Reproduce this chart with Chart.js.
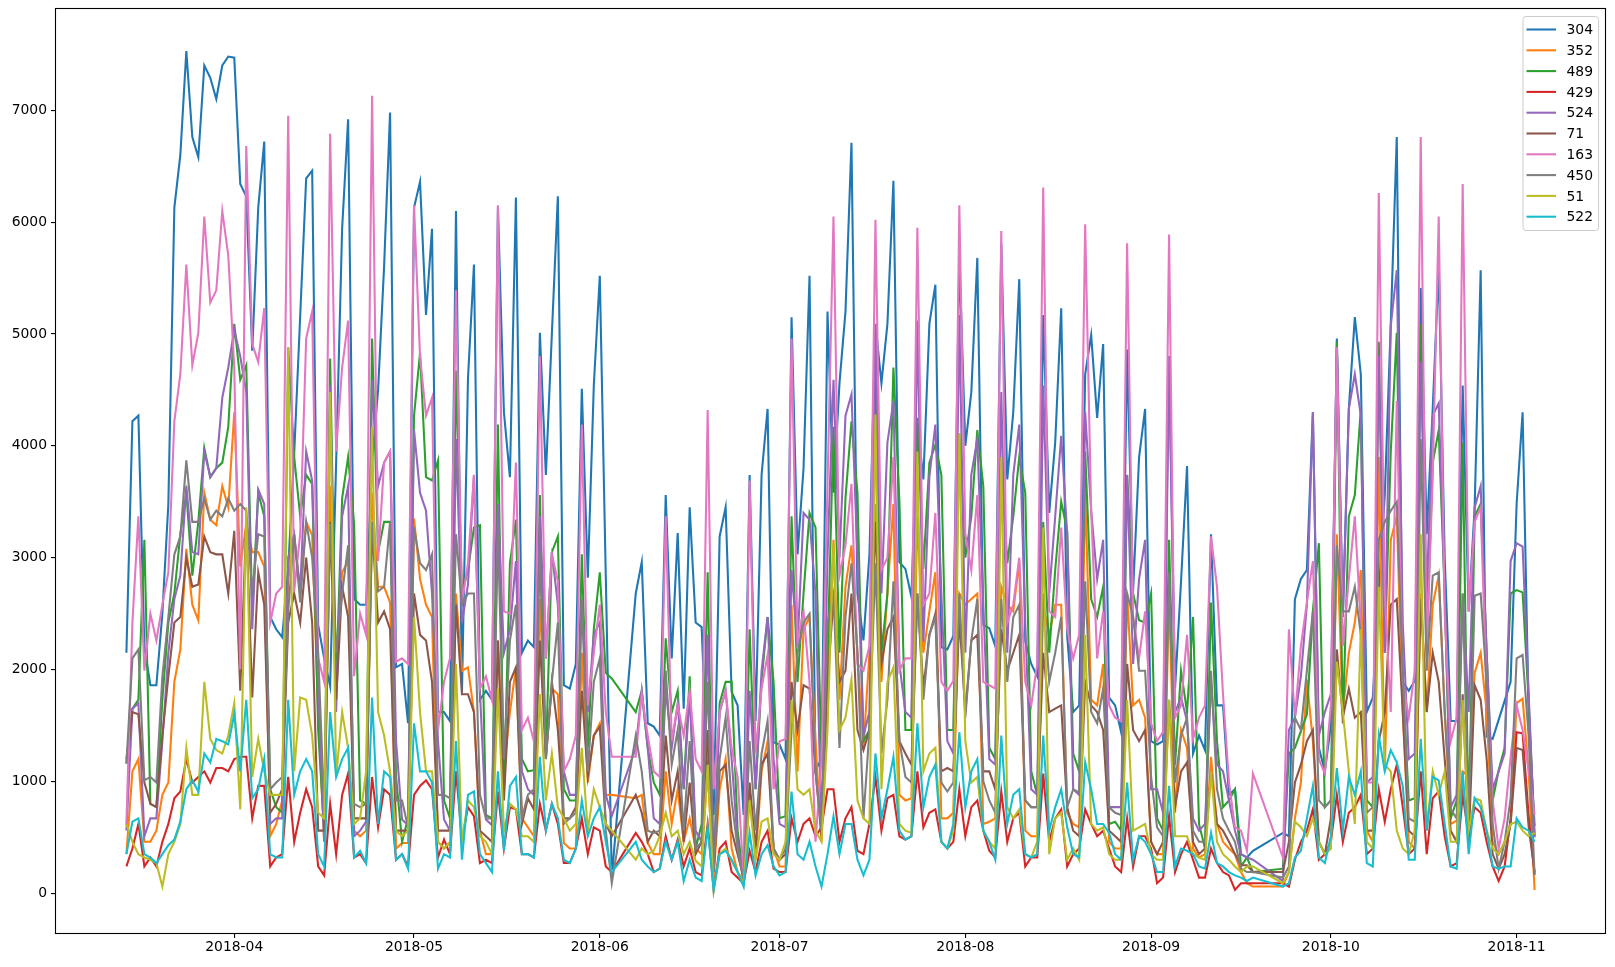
<!DOCTYPE html>
<html>
<head>
<meta charset="utf-8">
<script src="https://cdn.jsdelivr.net/npm/chart.js@4/dist/chart.umd.min.js"></script>
<style>
  html, body { margin: 0; padding: 0; background: #fff; }
  canvas { display: block; }
</style>
</head>
<body>
<canvas id="chart" width="1615" height="967"></canvas>
<script>
// daily values from 2018-03-14 (one entry per day, null = no data that day)
const firstDay = Date.UTC(2018, 2, 14) / 86400000;
const seriesNames = ['304', '352', '489', '429', '524', '71', '163', '450', '51', '522'];
const seriesColors = ['#1f77b4', '#ff7f0e', '#2ca02c', '#d62728', '#9467bd',
                      '#8c564b', '#e377c2', '#7f7f7f', '#bcbd22', '#17becf'];
const monthTicks = ['2018-04-01', '2018-05-01', '2018-06-01', '2018-07-01',
                    '2018-08-01', '2018-09-01', '2018-10-01', '2018-11-01'];
const yTicks = [0, 1000, 2000, 3000, 4000, 5000, 6000, 7000];

const s304 = [
  2150, 4220, 4270, 2200, 1860, 1860, 2500, 3480, 6130, 6600,
  7530, 6760, 6580, 7400, 7290, 7100, 7400, 7480, 7470, 6340,
  6230, 4850, 6130, 6720, 2470, 2360, 2290, 2900, 3930, 5160,
  6390, 6460, 2400, 2100, 1850, 3850, 5940, 6920, 2630, 2580,
  2580, 3850, 4500, 5600, 6980, 2020, 2050, 1520, 6130, 6360,
  5170, 5940, 1620, 1620, 1540, 6100, 1800, 4600, 5620, 1730,
  1810, 1730, 6130, 4300, 3720, 6220, 2150, 2260, 2200, 5010,
  3740, 5000, 6230, 1860, 1830, 2050, 4510, 2820, 4540, 5520,
  2830, 140, null, null, null, 2680, 2960, 1520, 1490, 1410,
  3560, 2100, 3220, 1650, 3450, 2420, 2380, 1000, 700, 3190,
  3450, 1800, 1680, 700, 3740, 1540, 3740, 4330, 1350, 1330,
  1200, 5150, 3030, 3800, 5520, 1100, 1200, 5200, 3580, 4560,
  5200, 6710, 2680, 2260, 3030, 5090, 4560, 5090, 6370, 2960,
  2900, 2650, 4200, 3700, 5090, 5440, 2200, 2180, 2300, 5700,
  4000, 4480, 5680, 2400, 2370, 2210, 5800, 3700, 4300, 5490,
  2250, 2050, 1940, 5170, 3400, 4030, 5230, 2300, 1620, 1680,
  4640, 4990, 4250, 4910, 1750, 1680, 1440, 4860, 2700, 3900,
  4330, 1360, 1330, 1360, 4800, 1830, 2790, 3820, 1250, 1410,
  1280, 3210, 1680, 1680, 880, 930, 350, 320, 380, null,
  null, null, null, 540, 510, 2630, 2810, 2890, 4300, 1300,
  1090, 1500, 4960, 2470, 4330, 5150, 4640, 1620, 1750, 2700,
  3560, 5090, 6760, 1890, 1810, 1900, 5410, 3210, 4330, 5600,
  3000, 1540, 1540, 4540, 2520, 3450, 5570, 1400, 1380, 1550,
  1720, 1890, 3480, 4300, 1620, 600
];
const s352 = [
  350, 1090, 1200, 460, 460, 560, 880, 990, 1890, 2180,
  3080, 2580, 2440, 3580, 3340, 3290, 3640, 3450, 4300, 2920,
  3300, 3050, 3050, 2920, 510, 620, 830, 2800, 3180, 2700,
  3320, 3200, 1620, 460, 3640, 2000, 2870, 2970, 560, 510,
  560, 3580, 2740, 2740, 2600, 400, 450, 450, 3350, 2810,
  2580, 2470, 460, 400, 450, 2680, 1990, 2020, 1620, 560,
  350, 350, 2260, 1090, 1620, 2020, 670, 590, 510, 2630,
  1250, 1830, 1780, 450, 400, 400, 2150, 990, 1410, 1520,
  880, 880, null, null, null, 850, 880, 450, 350, 350,
  1090, 620, 930, 460, 670, 400, 350, 1090, 140, 930,
  1200, 400, 190, 110, 930, 300, 1090, 1360, 400, 240,
  240, 2580, 1090, 2360, 2470, 1360, 460, 2000, 3160, 1730,
  2740, 3110, 2150, 1300, 2150, 3480, 1890, 2680, 3480, 880,
  830, 850, 3370, 2150, 2520, 2870, 670, 670, 720, 2680,
  2580, 2630, 2680, 620, 640, 670, 2740, 2580, 2520, 2970,
  560, 510, 510, 2580, 2310, 2580, 2580, 720, 620, 590,
  3610, 1730, 1680, 2050, 460, 400, 400, 2680, 1680, 1730,
  1570, 460, 350, 350, 2680, 720, 1460, 1300, 400, 320,
  350, 1220, 620, 460, 400, 350, 190, 90, 60, null,
  null, null, null, 60, 190, 670, 990, 1910, 1360, 460,
  350, 400, 3210, 1620, 2150, 2420, 2890, 560, 460, 3900,
  1090, 3160, 3370, 1620, 460, 400, 2680, 1620, 2580, 2840,
  1620, 620, 650, 1090, 1040, 1970, 2150, 1620, 460, 350,
  460, 620, 1700, 1740, 1090, 30
];
const s489 = [
  1200, 1650, 1730, 3160, 800, 770, 1730, 2420, 2680, 3210,
  3580, 2840, 3320, 3980, 3720, 3800, 3850, 4170, 5090, 4590,
  4720, 2520, 3580, 3370, 930, 770, 720, 4880, 3900, 3370,
  3740, 3660, 1460, 560, 4780, 1890, 3530, 3900, 3300, 830,
  800, 4960, 3050, 3320, 3320, 1040, 460, 670, 4270, 4830,
  3720, 3690, 3870, 830, 670, 4670, 2680, 2890, 3270, 3290,
  700, 670, 4190, 900, 2950, 3340, 1200, 1090, 1100, 3560,
  1200, 3050, 3190, 930, 830, 830, 3030, 1300, 2360, 2870,
  1970, 1920, null, null, null, 1620, 1810, 1300, 990, 880,
  2280, 1620, 1810, 930, 1940, 400, 620, 2870, 190, 1700,
  1890, 1890, 560, 140, 2360, 930, 1900, 2470, 1890, 670,
  690, 3370, 1890, 2680, 3400, 3270, 1200, 2100, 4170, 2150,
  3530, 4220, 3580, 1360, 1460, 4690, 2150, 2680, 4700, 3500,
  1460, 1460, 4250, 2900, 3850, 4010, 3740, 1460, 1460, 4110,
  3000, 3370, 4140, 3640, 1300, 1200, 3900, 2950, 3370, 3900,
  3580, 1090, 880, 3320, 2150, 2890, 3500, 3240, 1250, 1090,
  3950, 2630, 2470, 2740, 620, 640, 560, 3740, 2680, 2440,
  2420, 2680, 670, 560, 3160, 1150, 1990, 1620, 2470, 620,
  400, 2600, 1360, 770, 830, 930, 240, 320, 190, null,
  null, null, null, 220, 1250, 1300, 1450, 1600, 2520, 3130,
  770, 830, 4930, 1520, 3370, 3560, 4330, 830, 770, 4930,
  2150, 3950, 5010, 1890, 830, 850, 5090, 2210, 3850, 4140,
  2680, 670, 830, 4030, 560, 3370, 3480, 2150, 830, 1100,
  1300, 2680, 2710, 2690, 1730, 510
];
const s429 = [
  240, 400, 620, 240, 320, 240, 460, 620, 850, 910,
  1200, 990, 1040, 1090, 990, 1120, 1120, 1090, 1200, 1220,
  1220, 670, 960, 960, 240, 320, 350, 1040, 460, 720,
  930, 770, 240, 160, 800, 350, 880, 1070, 320, 350,
  270, 1040, 590, 930, 880, 300, 350, 240, 880, 960,
  1010, 930, 320, 480, 350, 1090, 480, 770, 690, 270,
  300, 270, 910, 400, 770, 750, 350, 350, 320, 800,
  560, 800, 620, 270, 270, 400, 670, 350, 590, 560,
  240, 190, null, null, null, 540, 460, 350, 190, 220,
  510, 300, 480, 240, 400, 190, 160, 620, 30, 400,
  460, 190, 140, 90, 380, 190, 460, 560, 220, 190,
  190, 670, 460, 620, 670, 510, 590, 930, 930, 460,
  670, 770, 380, 350, 620, 1040, 560, 850, 880, 510,
  480, 510, 1090, 590, 720, 750, 460, 400, 460, 930,
  510, 770, 830, 560, 380, 320, 910, 460, 670, 720,
  240, 320, 320, 1070, 460, 670, 750, 240, 350, 400,
  750, 620, 510, 560, 400, 240, 190, 670, 240, 510,
  510, 400, 90, 140, 690, 190, 350, 460, 300, 140,
  140, 400, 270, 190, 160, 30, 90, 90, 90, null,
  null, null, null, 90, 60, 300, 460, 560, 750, 300,
  350, 460, 880, 460, 720, 770, 880, 350, 400, 930,
  640, 930, 1150, 770, 350, 400, 1090, 350, 850, 910,
  510, 240, 270, 880, 510, 770, 720, 460, 240, 110,
  240, 670, 1440, 1430, 700, 170
];
const s524 = [
  560, 1650, 1700, 510, 670, 670, 1360, 2150, 2630, 2840,
  3640, 3050, 3030, 3950, 3720, 3800, 4430, 4700, 5040, 4800,
  4480, 2360, 3610, 3480, 620, 670, 670, 3000, 3210, 2700,
  3950, 3690, 1900, 460, 4540, 1620, 3370, 3640, 510, 560,
  640, 4590, 3640, 3850, 3950, 1360, 660, 610, 4140, 3580,
  3420, 2680, 1360, 660, 560, 4060, 2420, 2760, 3740, 1800,
  660, 610, 3480, 2150, 2360, 2970, 1090, 930, 880, 3370,
  2100, 3050, 2580, 1090, 880, 880, 2630, 1620, 2310, 2420,
  880, 690, null, null, null, 1300, 1810, 1300, 670, 620,
  1830, 1300, 1700, 930, 1780, 560, 460, 2310, 190, 1620,
  1810, 1200, 460, 90, 1810, 930, 1990, 2470, 1200, 620,
  590, 2890, 2210, 3400, 3340, 2680, 560, 3000, 4590, 3000,
  4270, 4460, 3000, 1410, 1620, 5090, 2680, 4030, 4400, 2050,
  1620, 1570, 5120, 2250, 3720, 4190, 2680, 1360, 1250, 5170,
  2150, 3740, 4060, 2580, 1200, 1150, 4480, 2150, 3740, 4190,
  2420, 930, 880, 4540, 2680, 3370, 4090, 3210, 930, 880,
  4300, 3420, 2810, 3160, 770, 770, 770, 3740, 2050, 2810,
  3160, 930, 930, 720, 4800, 1620, 1750, 1540, 670, 560,
  620, 1890, 1150, 1090, 830, 560, 350, 320, 300, null,
  null, null, null, 110, 1460, 1570, 1940, 2580, 4300, 1410,
  1620, 1780, 4880, 2470, 4330, 4640, 4270, 990, 1040, 4800,
  2150, 5070, 5570, 2420, 1200, 1250, 4750, 2680, 4270, 4380,
  2680, 770, 880, 2680, 1620, 3450, 3640, 2150, 930, 1090,
  1250, 2970, 3130, 3100, 1800, 500
];
const s71 = [
  1160, 1620, 1600, 990, 800, 770, 1410, 1940, 2420, 2470,
  3000, 2740, 2760, 3190, 3050, 3030, 3030, 2680, 3240, 1810,
  3320, 1750, 2870, 2580, 720, 800, 930, 2420, 2680, 2420,
  3000, 2420, 560, 560, 3320, 1730, 2740, 2470, 670, 670,
  670, 3270, 2420, 2520, 2360, 560, 560, 560, 2680, 2310,
  2260, 1890, 560, 560, 560, 2580, 1780, 1780, 1620, 560,
  510, 460, 2260, 830, 1890, 2020, 620, 850, 750, 2260,
  1200, 1890, 1460, 670, 670, 770, 1810, 1040, 1410, 1490,
  620, 510, null, null, null, 880, 720, 460, 560, 510,
  1410, 830, 1090, 460, 990, 350, 460, 1460, 190, 1090,
  1150, 560, 350, 140, 990, 400, 1150, 1250, 400, 300,
  350, 1890, 1460, 1860, 1830, 1090, 510, 1890, 2630, 1890,
  1990, 2680, 1460, 1280, 1460, 3320, 2050, 2360, 2470, 1360,
  1250, 1150, 2680, 1830, 2310, 2500, 1090, 1120, 1090, 2470,
  1620, 2260, 2310, 1090, 1090, 930, 2360, 1990, 2150, 2310,
  830, 770, 770, 2150, 1620, 1650, 1680, 770, 560, 510,
  1890, 1680, 1620, 1460, 560, 510, 460, 2050, 1460, 1360,
  1460, 460, 350, 460, 1730, 770, 1090, 1170, 460, 350,
  400, 1090, 620, 560, 460, 350, 250, 250, 190, null,
  null, null, null, 190, 460, 990, 1150, 1360, 1460, 460,
  350, 670, 2180, 1570, 1830, 1570, 1620, 560, 560, 1360,
  1620, 2580, 2630, 1620, 560, 510, 2630, 1620, 2150, 1890,
  1200, 560, 460, 1780, 460, 1860, 1730, 1200, 350, 220,
  350, 620, 1300, 1280, 600, 190
];
const s163 = [
  620, 2420, 3370, 1990, 2500, 2260, 2580, 2870, 4220, 4640,
  5620, 4720, 5010, 6050, 5280, 5390, 6100, 5700, 4700, 2000,
  6680, 4910, 4750, 5230, 2420, 2680, 2740, 6950, 2700, 3210,
  4960, 5200, 2100, 1890, 6790, 3950, 4700, 5120, 1940, 2500,
  2310, 7130, 2970, 3850, 3950, 2070, 2100, 2050, 6150, 4800,
  4270, 4430, 1460, 1890, 2100, 5390, 2600, 2950, 3740, 1830,
  1940, 1730, 6150, 2520, 2500, 3850, 1460, 1570, 1360, 4800,
  2100, 3030, 2790, 1090, 1200, 1410, 4190, 1680, 2150, 2580,
  1620, 1220, null, null, null, 1220, 1780, 1410, 1090, 1040,
  3370, 1360, 1680, 1410, 1810, 1200, 1090, 4320, 930, 1620,
  1810, 1300, 1040, 140, 3690, 1250, 1830, 2130, 930, 1360,
  1380, 4960, 2260, 2520, 1890, 460, 1200, 3640, 6050, 2840,
  3110, 3660, 2050, 1990, 2210, 6020, 2890, 3000, 3900, 1990,
  2100, 2100, 5950, 2580, 2680, 3400, 1890, 1810, 1900, 6150,
  3210, 2890, 3560, 1890, 1860, 1830, 5920, 2420, 2580, 3000,
  1890, 1680, 2050, 6310, 2520, 2470, 3270, 2360, 2100, 2310,
  5980, 3420, 2100, 2520, 1680, 1570, 1540, 5810, 2470, 2100,
  2520, 1520, 1360, 1440, 5890, 1570, 1680, 2310, 1380, 1570,
  1680, 3190, 2740, 1780, 990, 590, 560, 380, 1070, null,
  null, null, null, 320, 2360, 1570, 2210, 2600, 2970, 1200,
  1070, 1680, 4880, 2210, 2810, 3370, 2400, 990, 990, 6260,
  2680, 1620, 4400, 1890, 1570, 1990, 6760, 2150, 3740, 6050,
  2500, 1360, 1570, 6340, 2520, 3320, 3450, 1800, 830, 400,
  670, 1220, 1680, 1460, 1100, 700
];
const s450 = [
  1160, 2100, 2180, 1010, 1040, 990, 1940, 2470, 3030, 3190,
  3870, 3320, 3320, 3530, 3340, 3420, 3370, 3530, 3420, 3480,
  3420, 2700, 3210, 3190, 930, 990, 1040, 2520, 3210, 2600,
  3320, 3000, 2150, 770, 3300, 2150, 2680, 3110, 800, 770,
  800, 3320, 2700, 2740, 3320, 830, 830, 590, 3270, 2950,
  2890, 3030, 880, 880, 850, 3210, 2580, 2680, 2680, 880,
  670, 670, 3210, 1200, 2260, 2580, 670, 880, 930, 3050,
  1200, 1890, 2420, 620, 670, 720, 2630, 1090, 1890, 2100,
  560, 90, null, null, null, 1410, 1090, 560, 540, 560,
  1990, 1150, 1460, 560, 1360, 400, 460, 1890, 190, 1200,
  1570, 830, 400, 110, 1360, 560, 1250, 1540, 400, 300,
  400, 1460, 2150, 2420, 2500, 1090, 560, 2420, 2680, 1300,
  2470, 2950, 2150, 670, 1460, 2950, 1250, 1730, 2790, 1360,
  1040, 990, 2680, 1730, 2310, 2470, 990, 910, 990, 2680,
  1570, 2260, 2630, 1000, 830, 720, 2630, 1890, 2470, 2580,
  830, 770, 770, 2680, 1890, 2150, 2470, 770, 930, 900,
  2790, 1620, 1520, 1830, 770, 720, 700, 2680, 2470, 1990,
  1990, 1040, 590, 510, 2870, 990, 1410, 1570, 560, 460,
  460, 1990, 930, 670, 560, 460, 220, 190, 190, null,
  null, null, null, 140, 240, 1570, 1460, 1990, 2520, 830,
  770, 830, 3110, 2520, 2520, 2740, 2310, 720, 770, 3160,
  3320, 3420, 3500, 1990, 670, 640, 4060, 1990, 2840, 2870,
  1620, 750, 670, 2680, 670, 2660, 2680, 1890, 620, 220,
  460, 850, 2100, 2130, 1410, 160
];
const s51 = [
  620, 460, 350, 320, 300, 270, 60, 350, 460, 620,
  1300, 880, 880, 1890, 1380, 1280, 1250, 1410, 1700, 750,
  3450, 1040, 1380, 1090, 880, 880, 880, 4880, 1090, 1750,
  1730, 1410, 720, 670, 4480, 1040, 1620, 1300, 620, 670,
  1090, 4170, 1620, 1410, 1090, 560, 510, 560, 2470, 1620,
  1090, 1090, 460, 400, 460, 2050, 460, 830, 770, 510,
  460, 350, 1830, 560, 800, 750, 510, 510, 460, 1780,
  830, 1250, 770, 670, 560, 620, 1300, 560, 930, 770,
  620, 560, null, null, null, 300, 400, 350, 380, 510,
  720, 510, 560, 350, 460, 290, 240, 1150, 30, 350,
  400, 290, 190, 90, 830, 300, 640, 670, 350, 300,
  460, 1730, 930, 880, 930, 560, 460, 1460, 3130, 1460,
  1570, 1910, 830, 670, 620, 4280, 930, 1890, 2020, 620,
  560, 540, 3950, 1090, 1250, 1300, 460, 400, 560, 4110,
  1360, 990, 1040, 560, 460, 400, 3900, 770, 670, 750,
  350, 320, 460, 3270, 350, 670, 720, 300, 400, 300,
  2310, 620, 560, 590, 350, 300, 300, 1730, 560, 590,
  620, 350, 300, 300, 1730, 510, 510, 510, 350, 320,
  300, 1090, 460, 350, 300, 240, 190, 240, 240, null,
  null, null, null, 90, 190, 640, 590, 510, 670, 460,
  350, 400, 2070, 1620, 1090, 620, 2360, 460, 400, 2740,
  1150, 1090, 560, 400, 350, 560, 3210, 560, 1090, 880,
  1090, 460, 460, 1730, 560, 850, 830, 560, 400, 350,
  460, 620, 640, 560, 510, 540
];
const s522 = [
  350, 640, 670, 350, 320, 270, 350, 430, 480, 640,
  930, 1010, 910, 1250, 1170, 1380, 1360, 1330, 1600, 1090,
  1730, 850, 930, 1200, 350, 320, 320, 1730, 880, 1090,
  1200, 1090, 350, 240, 1620, 1040, 1200, 1300, 320, 380,
  270, 1750, 620, 1090, 1040, 300, 350, 220, 1520, 1090,
  1090, 990, 220, 350, 320, 1360, 300, 880, 910, 350,
  270, 190, 1090, 380, 960, 1040, 350, 350, 320, 1220,
  560, 800, 670, 300, 270, 400, 830, 510, 670, 770,
  460, 190, null, null, null, 460, 300, 240, 190, 220,
  460, 300, 460, 110, 300, 140, 110, 590, 30, 350,
  380, 300, 190, 60, 540, 160, 350, 430, 240, 160,
  190, 910, 350, 300, 460, 240, 60, 350, 690, 350,
  620, 620, 300, 160, 300, 1250, 670, 930, 1220, 560,
  480, 510, 1520, 770, 1040, 1150, 460, 400, 620, 1440,
  770, 1090, 1200, 560, 460, 300, 1410, 620, 880, 930,
  350, 320, 350, 1410, 560, 770, 930, 590, 350, 320,
  1170, 930, 620, 620, 540, 350, 300, 990, 300, 510,
  460, 350, 190, 190, 960, 240, 400, 380, 350, 240,
  220, 540, 270, 240, 190, 160, 140, 110, 140, null,
  null, null, null, 60, 90, 320, 380, 670, 960, 320,
  270, 510, 1120, 560, 1040, 880, 1090, 270, 240, 1410,
  1090, 1280, 1170, 960, 300, 300, 1380, 560, 1040, 1010,
  620, 240, 220, 1090, 350, 850, 770, 560, 240, 220,
  240, 240, 670, 590, 560, 460
];

const seriesValues = [s304, s352, s489, s429, s524, s71, s163, s450, s51, s522];
const lastDay = firstDay + s304.length - 1;
const xPad = (lastDay - firstDay) * 0.05;
const lineW = 2.08;   // 1.5 pt at 100 dpi

function toDayNumber(iso) {
  const p = iso.split('-');
  return Date.UTC(+p[0], +p[1] - 1, +p[2]) / 86400000;
}
function dayLabel(v) {
  const d = new Date(Math.round(v) * 86400000);
  return d.getUTCFullYear() + '-' + String(d.getUTCMonth() + 1).padStart(2, '0');
}

const datasets = seriesNames.map((name, i) => ({
  label: name,
  data: seriesValues[i].map((v, k) => ({ x: firstDay + k, y: v })),
  borderColor: seriesColors[i],
  backgroundColor: seriesColors[i],
  borderWidth: lineW,
  pointRadius: 0,
  tension: 0,
  spanGaps: true,
  order: seriesNames.length - i   // later series drawn on top, like matplotlib
}));

// box around the plot area, drawn over the lines
const frame = {
  id: 'frame',
  afterDatasetsDraw(chart) {
    const { ctx, chartArea: a } = chart;
    ctx.save();
    ctx.strokeStyle = '#000';
    ctx.lineWidth = 1.1;
    ctx.strokeRect(Math.round(a.left) - 0.5, Math.round(a.top) - 0.5,
                   Math.round(a.right - a.left) + 1, Math.round(a.bottom - a.top) + 1);
    ctx.restore();
  }
};

// legend in the upper right corner of the plot
const cornerLegend = {
  id: 'cornerLegend',
  afterDraw(chart) {
    const { ctx, chartArea: a } = chart;
    const x0 = a.right - 82.5, y0 = a.top + 7, w = 75.6, h = 214;
    ctx.save();
    ctx.beginPath();
    ctx.roundRect(x0 + 0.5, y0 + 0.5, w, h, 3);
    ctx.fillStyle = 'rgba(255,255,255,0.8)';
    ctx.fill();
    ctx.strokeStyle = '#cccccc';
    ctx.lineWidth = 1;
    ctx.stroke();
    ctx.font = '13.9px "DejaVu Sans"';
    ctx.textBaseline = 'middle';
    ctx.textAlign = 'left';
    chart.data.datasets.forEach((ds, i) => {
      const y = y0 + 13.5 + i * 20.8;
      ctx.strokeStyle = ds.borderColor;
      ctx.lineWidth = lineW;
      ctx.beginPath();
      ctx.moveTo(x0 + 4, y);
      ctx.lineTo(x0 + 33.5, y);
      ctx.stroke();
      ctx.fillStyle = '#000';
      ctx.fillText(ds.label, x0 + 44, y + 1);
    });
    ctx.restore();
  }
};

Chart.defaults.font.family = '"DejaVu Sans", sans-serif';
Chart.defaults.font.size = 13.9;
Chart.defaults.color = '#000';

new Chart(document.getElementById('chart'), {
  type: 'line',
  data: { datasets: datasets },
  options: {
    responsive: false,
    animation: false,
    devicePixelRatio: 1,
    layout: { padding: { left: 0, right: 10, top: 9, bottom: 0 } },
    plugins: {
      legend: { display: false },
      tooltip: { enabled: false }
    },
    scales: {
      x: {
        type: 'linear',
        min: firstDay - xPad,
        max: lastDay + xPad,
        afterBuildTicks: (scale) => {
          scale.ticks = monthTicks.map(m => ({ value: toDayNumber(m) }));
        },
        afterFit: (scale) => {
          scale.height = 34;
          scale.paddingLeft = 0;
          scale.paddingRight = 0;
        },
        ticks: {
          autoSkip: false,
          maxRotation: 0,
          padding: 1,
          callback: (v) => dayLabel(v)
        },
        grid: { drawOnChartArea: false, drawTicks: true, tickLength: 5, lineWidth: 1.1, color: '#000' },
        border: { display: false }
      },
      y: {
        min: -355,
        max: 7905,
        afterBuildTicks: (scale) => {
          scale.ticks = yTicks.map(v => ({ value: v }));
        },
        afterFit: (scale) => {
          scale.width = 56;
          scale.paddingTop = 0;
          scale.paddingBottom = 0;
        },
        ticks: { padding: 4, callback: (v) => String(v) },
        grid: { drawOnChartArea: false, drawTicks: true, tickLength: 5, lineWidth: 1.1, color: '#000' },
        border: { display: false }
      }
    }
  },
  plugins: [frame, cornerLegend]
});
</script>
</body>
</html>
